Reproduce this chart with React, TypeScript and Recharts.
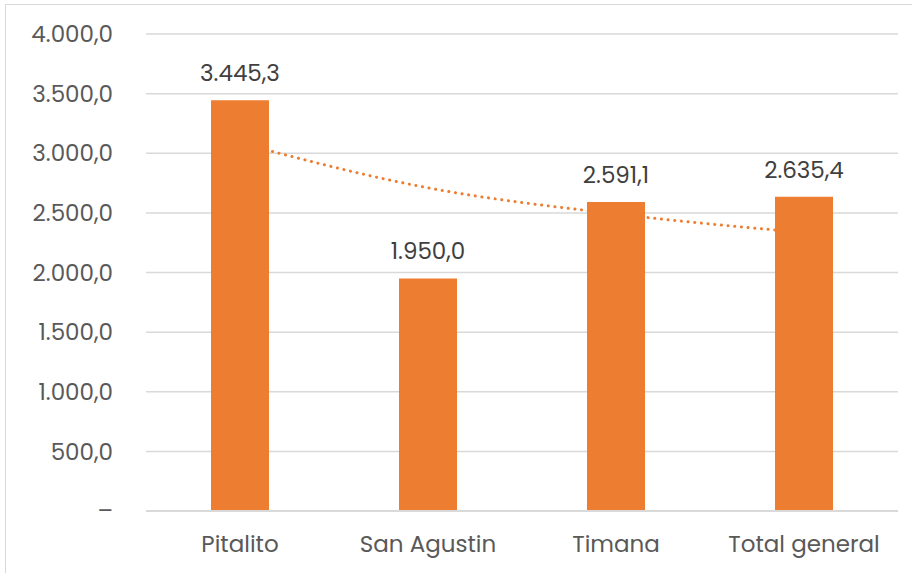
import React from 'react'
import { ComposedChart, Bar, Line, XAxis, YAxis, CartesianGrid, LabelList } from 'recharts'

const categories = ['Pitalito', 'San Agustin', 'Timana', 'Total general']
const values = [3445.3, 1950.0, 2591.1, 2635.4]
// trendline (logarithmic at each category)
const trendValues = [3086, 2710, 2491, 2335]
const yTicks = [0, 500, 1000, 1500, 2000, 2500, 3000, 3500, 4000]

const ORANGE = '#ED7D31'
const FONT = 'Poppins, "Noto Sans", "Open Sans", sans-serif'

const data = categories.map((name, i) => ({
  name,
  value: values[i],
  trend: trendValues[i],
}))

function fmt(v: number) {
  if (v === 0) return '–'
  const [int, dec] = v.toFixed(1).split('.')
  return int.replace(/\B(?=(\d{3})+(?!\d))/g, '.') + ',' + dec
}

export default function App() {
  return (
    <div
      style={{
        position: 'absolute',
        left: 0,
        top: 0,
        width: 912,
        height: 573,
        overflow: 'hidden',
        background: '#fff',
        fontFamily: FONT,
      }}
    >
      <div
        style={{
          position: 'absolute',
          left: 5,
          top: 4,
          width: 1000,
          height: 700,
          border: '1px solid #d9d9d9',
        }}
      />
      <div style={{ position: 'absolute', left: 0, top: 0 }}>
        <ComposedChart
          width={912}
          height={573}
          data={data}
          margin={{ top: 34, right: 14, bottom: 0, left: 0 }}
        >
          <CartesianGrid vertical={false} stroke="#d9d9d9" strokeWidth={1.5} />
          <XAxis
            dataKey="name"
            height={62}
            tickLine={false}
            tickSize={0}
            tickMargin={25}
            axisLine={{ stroke: '#d9d9d9', strokeWidth: 2 }}
            tick={{ fill: '#595959', fontSize: 23, fontFamily: FONT }}
            interval={0}
          />
          <YAxis
            width={146}
            domain={[0, 4000]}
            ticks={yTicks}
            tickFormatter={fmt}
            axisLine={false}
            tickLine={false}
            tickSize={0}
            tickMargin={33}
            tick={{ fill: '#595959', fontSize: 23, fontFamily: FONT }}
          />
          <Line
            dataKey="trend"
            type="monotone"
            stroke={ORANGE}
            strokeWidth={3}
            strokeDasharray="0.1 6.6"
            strokeLinecap="round"
            dot={false}
            activeDot={false}
            isAnimationActive={false}
          />
          <Bar dataKey="value" fill={ORANGE} barSize={58} isAnimationActive={false}>
            <LabelList
              dataKey="value"
              position="top"
              offset={19}
              formatter={(v: any) => fmt(Number(v))}
              style={{ fill: '#404040', fontSize: 23, fontFamily: FONT }}
            />
          </Bar>
        </ComposedChart>
      </div>
    </div>
  )
}
